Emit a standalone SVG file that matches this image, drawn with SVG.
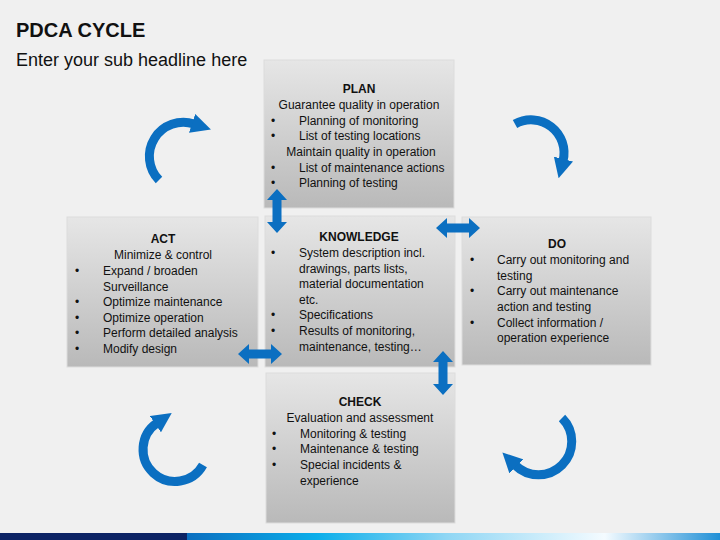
<svg xmlns="http://www.w3.org/2000/svg" width="720" height="540" viewBox="0 0 720 540">
<style>
text{font-family:"Liberation Sans",Arial,sans-serif;fill:#111}
.t{font-size:12px;font-weight:bold;text-anchor:middle}
.b{font-size:12px}
.c{font-size:12px;text-anchor:middle}
.box{fill:url(#g);stroke:#dcdcdc;stroke-width:1}
.arc{fill:none;stroke:#0b6fc1;stroke-width:9;marker-end:url(#ah)}
.dbl{fill:#0b6fc1}
</style>
<defs>
<linearGradient id="g" x1="0" y1="0" x2="0" y2="1">
<stop offset="0" stop-color="#e6e6e6"/>
<stop offset="1" stop-color="#b9b9b9"/>
</linearGradient>
<linearGradient id="bar" x1="0" y1="0" x2="1" y2="0">
<stop offset="0" stop-color="#0c2364"/>
<stop offset="0.259" stop-color="#0c2364"/>
<stop offset="0.26" stop-color="#0a6fc0"/>
<stop offset="0.44" stop-color="#0aaeea"/>
<stop offset="0.62" stop-color="#8fd6f4"/>
<stop offset="0.84" stop-color="#f4fbff"/>
<stop offset="1" stop-color="#1f8fd6"/>
</linearGradient>
<marker id="ah" viewBox="0 0 10 10" refX="1" refY="5" markerWidth="2.2" markerHeight="2.2" orient="auto" markerUnits="strokeWidth">
<path d="M0,0 L10,5 L0,10 Z" fill="#0b6fc1"/>
</marker>
<path id="dbl" d="M-22,0 L-11,-10 L-11,-4.5 L11,-4.5 L11,-10 L22,0 L11,10 L11,4.5 L-11,4.5 L-11,10 Z"/>
</defs>
<rect width="720" height="540" fill="#f0f0f0"/>
<rect x="0" y="533" width="720" height="7" fill="url(#bar)"/>
<text x="16" y="37" style="font-size:20px;font-weight:bold">PDCA CYCLE</text>
<text x="16" y="66" style="font-size:18px">Enter your sub headline here</text>

<g id="plan">
<rect class="box" x="264" y="60" width="190" height="148"/>
<text class="t" x="359" y="93">PLAN</text>
<text class="c" x="359" y="109">Guarantee quality in operation</text>
<text class="b" x="271" y="125">•</text><text class="b" x="299" y="125">Planning of monitoring</text>
<text class="b" x="271" y="140">•</text><text class="b" x="299" y="140">List of testing locations</text>
<text class="c" x="361" y="156">Maintain quality in operation</text>
<text class="b" x="271" y="172">•</text><text class="b" x="299" y="172">List of maintenance actions</text>
<text class="b" x="271" y="187">•</text><text class="b" x="299" y="187">Planning of testing</text>
</g>

<g id="act">
<rect class="box" x="67" y="217" width="191" height="150"/>
<text class="t" x="163" y="243">ACT</text>
<text class="c" x="163" y="259">Minimize &amp; control</text>
<text class="b" x="75" y="275">•</text><text class="b" x="103" y="275">Expand / broaden</text>
<text class="b" x="103" y="291">Surveillance</text>
<text class="b" x="75" y="306">•</text><text class="b" x="103" y="306">Optimize maintenance</text>
<text class="b" x="75" y="322">•</text><text class="b" x="103" y="322">Optimize operation</text>
<text class="b" x="75" y="337">•</text><text class="b" x="103" y="337">Perform detailed analysis</text>
<text class="b" x="75" y="353">•</text><text class="b" x="103" y="353">Modify design</text>
</g>

<g id="knowledge">
<rect class="box" x="265" y="216" width="190" height="151"/>
<text class="t" x="359" y="241">KNOWLEDGE</text>
<text class="b" x="271" y="257">•</text><text class="b" x="299" y="257">System description incl.</text>
<text class="b" x="299" y="273">drawings, parts lists,</text>
<text class="b" x="299" y="288">material documentation</text>
<text class="b" x="299" y="304">etc.</text>
<text class="b" x="271" y="319">•</text><text class="b" x="299" y="319">Specifications</text>
<text class="b" x="271" y="335">•</text><text class="b" x="299" y="335">Results of monitoring,</text>
<text class="b" x="299" y="351">maintenance, testing…</text>
</g>

<g id="do">
<rect class="box" x="462" y="217" width="189" height="148"/>
<text class="t" x="557" y="248">DO</text>
<text class="b" x="470" y="264">•</text><text class="b" x="497" y="264">Carry out monitoring and</text>
<text class="b" x="497" y="280">testing</text>
<text class="b" x="470" y="295">•</text><text class="b" x="497" y="295">Carry out maintenance</text>
<text class="b" x="497" y="311">action and testing</text>
<text class="b" x="470" y="327">•</text><text class="b" x="497" y="327">Collect information /</text>
<text class="b" x="497" y="342">operation experience</text>
</g>

<g id="check">
<rect class="box" x="266" y="373" width="189" height="150"/>
<text class="t" x="360" y="406">CHECK</text>
<text class="c" x="360" y="422">Evaluation and assessment</text>
<text class="b" x="272" y="438">•</text><text class="b" x="300" y="438">Monitoring &amp; testing</text>
<text class="b" x="272" y="453">•</text><text class="b" x="300" y="453">Maintenance &amp; testing</text>
<text class="b" x="272" y="469">•</text><text class="b" x="300" y="469">Special incidents &amp;</text>
<text class="b" x="300" y="485">experience</text>
</g>

<g id="connectors">
<path class="arc" d="M159,180 A34,34 0 0 1 194,124"/>
<path class="arc" d="M515,124 A33,33 0 0 1 563,161"/>
<path class="arc" d="M203,465 A32,32 0 1 1 157,423"/>
<path class="arc" d="M562,418 A32,32 0 0 1 515,465"/>
<use href="#dbl" class="dbl" transform="translate(277,211) rotate(90)"/>
<use href="#dbl" class="dbl" transform="translate(458,228)"/>
<use href="#dbl" class="dbl" transform="translate(260,354)"/>
<use href="#dbl" class="dbl" transform="translate(443,373) rotate(90)"/>
</g>
</svg>
